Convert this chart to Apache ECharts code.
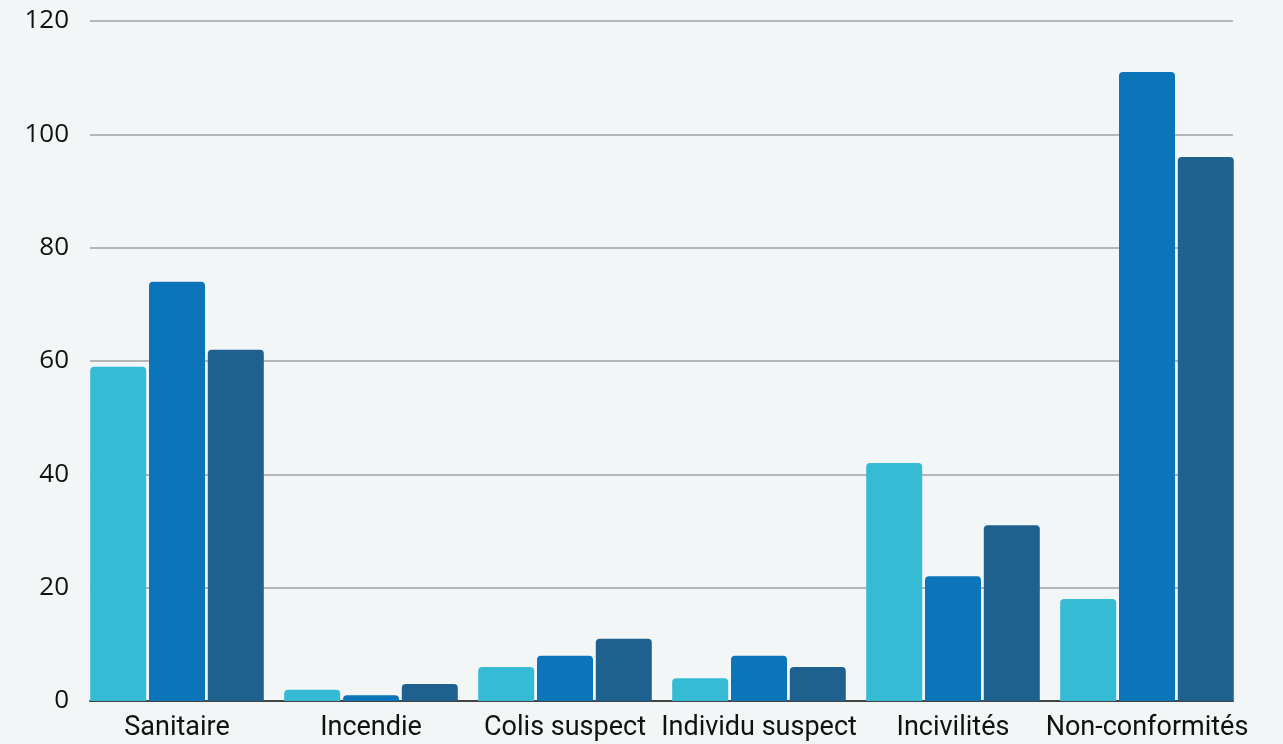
<!DOCTYPE html>
<html>
<head>
<meta charset="utf-8">
<script src="https://cdn.jsdelivr.net/npm/echarts@6/dist/echarts.min.js"></script>
<style>
html,body{margin:0;padding:0;background:#f3f6f7;}
#c{width:1283px;height:744px;}
</style>
</head>
<body>
<div id="c"></div>
<script>
const categories = ['Sanitaire', 'Incendie', 'Colis suspect', 'Individu suspect', 'Incivilités', 'Non-conformités'];
const serieA = [59, 2, 6, 4, 42, 18];
const serieB = [74, 1, 8, 8, 22, 111];
const serieC = [62, 3, 11, 6, 31, 96];
const yTicks = { min: 0, max: 120, interval: 20 };

const colors = ['#35bbd3', '#0c74b8', '#1e618e'];
const chart = echarts.init(document.getElementById('c'));
function bar(name, data, color) {
  return {
    name: name, type: 'bar', data: data, xAxisIndex: 0, yAxisIndex: 0,
    barWidth: 56, barGap: '5%',
    itemStyle: { color: color, borderRadius: [4, 4, 0, 0] }
  };
}
chart.setOption({
  backgroundColor: '#f3f6f7',
  animation: false,
  grid: [
    { left: 80, right: 39, top: 21, bottom: 43 },
    { left: 90, right: 50, top: 21, bottom: 43 }
  ],
  xAxis: [
    {
      gridIndex: 0, type: 'category', data: categories,
      axisLine: { show: false }, axisTick: { show: false },
      axisLabel: { color: '#111', fontFamily: 'Roboto', fontSize: 27, margin: 14, interval: 0 }
    },
    {
      gridIndex: 1, type: 'category', data: categories,
      axisLine: { show: true, lineStyle: { color: '#444', width: 2 } },
      axisTick: { show: false }, axisLabel: { show: false }
    }
  ],
  yAxis: [
    {
      gridIndex: 0, type: 'value', min: yTicks.min, max: yTicks.max, interval: yTicks.interval,
      show: false, splitLine: { show: false }
    },
    {
      gridIndex: 1, type: 'value', min: yTicks.min, max: yTicks.max, interval: yTicks.interval,
      axisLine: { show: false }, axisTick: { show: false },
      axisLabel: { color: '#111', fontFamily: 'Open Sans', fontSize: 26, margin: 21 },
      splitLine: { show: true, lineStyle: { color: '#a0a1a5', width: 1.6 } }
    }
  ],
  series: [
    bar('Série 1', serieA, colors[0]),
    bar('Série 2', serieB, colors[1]),
    bar('Série 3', serieC, colors[2])
  ]
});
</script>
</body>
</html>
